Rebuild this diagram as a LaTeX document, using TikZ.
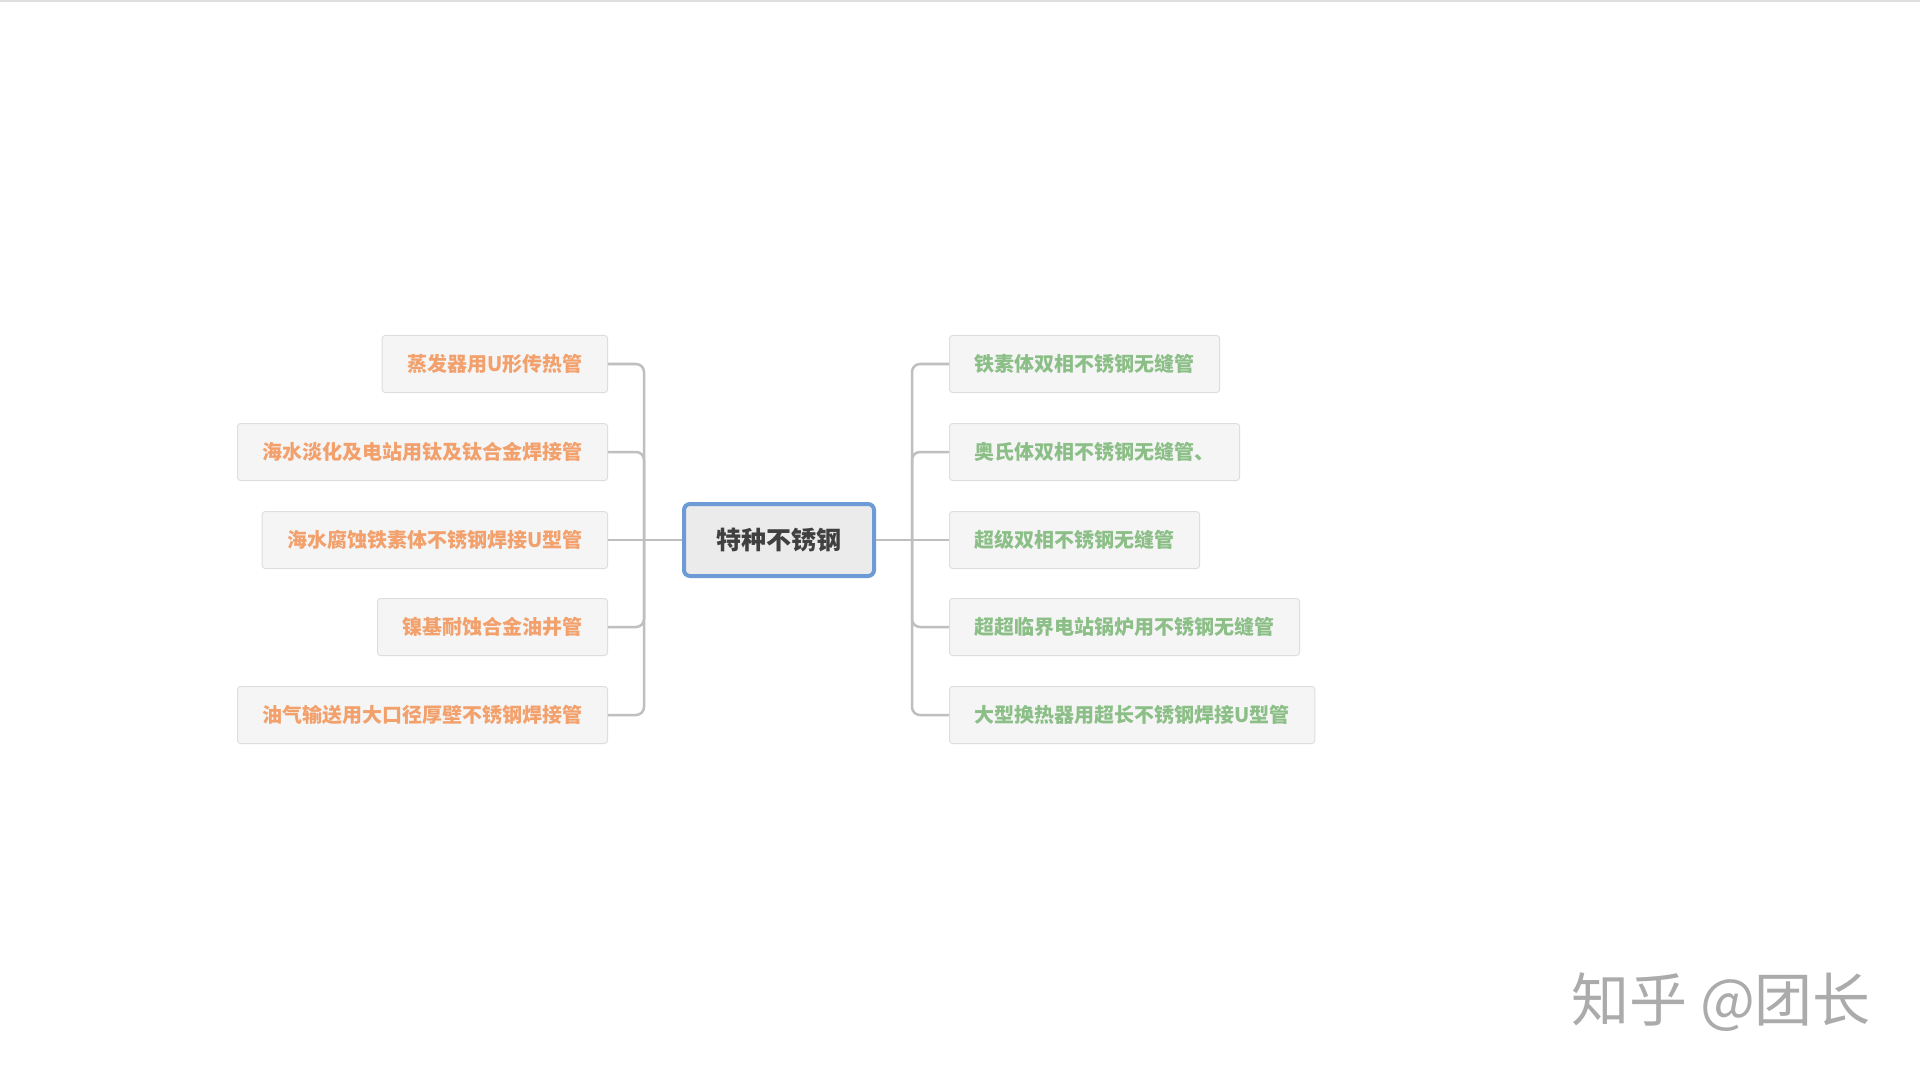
\documentclass[tikz,border=0pt]{standalone}
\usepackage{fontspec}
\newfontfamily\cjk{Noto Sans CJK SC}
\begin{document}
\begin{tikzpicture}[x=0.5pt,y=-0.5pt,
  leaf/.style={draw=black!13, fill=black!4, line width=0.5pt, rounded corners=1.5pt,
    minimum height=28.5pt, inner xsep=12.5pt, font=\cjk\bfseries\fontsize{10pt}{12pt}\selectfont},
  lleaf/.style={leaf, anchor=east, text=orangetxt},
  rleaf/.style={leaf, anchor=west, text=greentxt},
  root/.style={draw=bluebd, fill=black!8, line width=2pt, rounded corners=3pt,
    minimum width=95pt, minimum height=36pt, text=black!75,
    font=\cjk\bfseries\fontsize{12.5pt}{15pt}\selectfont},
  conn/.style={draw=black!25, line width=1.25pt, rounded corners=4pt}]
\definecolor{orangetxt}{HTML}{F2A06C}
\definecolor{greentxt}{HTML}{8CBF87}
\definecolor{bluebd}{HTML}{6D9BD6}
\useasboundingbox (0,0) rectangle (1920,1080);
\fill[white] (0,0) rectangle (1920,1080);
\draw[black!12, line width=1pt] (0,1) -- (1920,1);

\node[root] (C) at (779,540) {特种不锈钢};

\node[lleaf] (L1) at (608,364) {蒸发器用U形传热管};
\node[lleaf] (L2) at (608,452) {海水淡化及电站用钛及钛合金焊接管};
\node[lleaf] (L3) at (608,540) {海水腐蚀铁素体不锈钢焊接U型管};
\node[lleaf] (L4) at (608,627) {镍基耐蚀合金油井管};
\node[lleaf] (L5) at (608,715) {油气输送用大口径厚壁不锈钢焊接管};

\node[rleaf] (R1) at (949,364) {铁素体双相不锈钢无缝管};
\node[rleaf] (R2) at (949,452) {奥氏体双相不锈钢无缝管、};
\node[rleaf] (R3) at (949,540) {超级双相不锈钢无缝管};
\node[rleaf] (R4) at (949,627) {超超临界电站锅炉用不锈钢无缝管};
\node[rleaf] (R5) at (949,715) {大型换热器用超长不锈钢焊接U型管};

\coordinate (jL) at (644,540);
\coordinate (jR) at (912,540);

\draw[conn] (C.west) -- (jL);
\draw[conn] (C.east) -- (jR);
\draw[conn] (jL) -- (L3.east);
\draw[conn] (jR) -- (R3.west);
\foreach \n in {L1,L2,L4,L5} \draw[conn] (jL) |- (\n.east);
\foreach \n in {R1,R2,R4,R5} \draw[conn] (jR) |- (\n.west);

\node[text=black!33, font=\cjk\fontsize{29pt}{33pt}\selectfont] (W) at (1721,1002) {知乎 @团长};
\end{tikzpicture}
\end{document}
